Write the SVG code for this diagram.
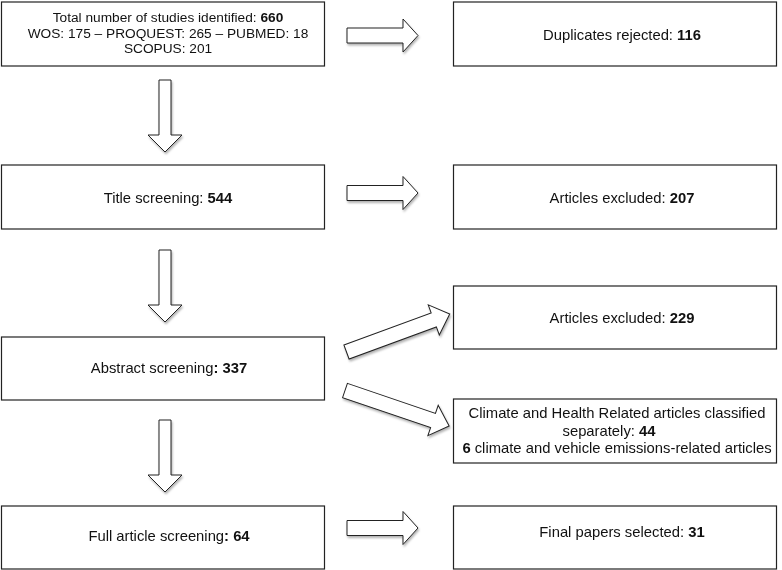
<svg xmlns="http://www.w3.org/2000/svg" width="782" height="570" viewBox="0 0 782 570">
<defs>
<style>
.box{fill:#fff;stroke:#222;stroke-width:1.2}
.arr{fill:#fff;stroke:#222;stroke-width:1;stroke-linejoin:miter}
text{font-family:"Liberation Sans",Arial,Helvetica,sans-serif;font-size:14.8px;fill:#111;text-anchor:middle}
.s{font-size:13.7px}
.b{font-weight:bold}
</style>
<filter id="sh" x="-20%" y="-20%" width="140%" height="160%">
<feDropShadow dx="1" dy="2" stdDeviation="1.2" flood-color="#000" flood-opacity="0.3"/>
</filter>
<path id="ah" d="M0,-7.5 H56 V-16.5 L71,0 L56,16.5 V7.5 H0 Z"/>
<path id="av" d="M-6,0 V55 H-17 L0,72 L17,55 H6 V0 Z"/>
<path id="ad" d="M0,-7.5 H93 V-16 L110,0 L93,16 V7.5 H0 Z"/>
</defs>
<rect width="782" height="570" fill="#fff"/>

<g id="connectors" filter="url(#sh)">
<use href="#ah" class="arr" x="347" y="35.5"/>
<use href="#ah" class="arr" x="347" y="193"/>
<use href="#ah" class="arr" x="347" y="528"/>
<use href="#av" class="arr" x="165" y="80"/>
<use href="#av" class="arr" x="165" y="250"/>
<use href="#av" class="arr" x="165" y="420"/>
<use href="#ad" class="arr" transform="translate(346.5,352) rotate(-20.2)"/>
<use href="#ad" class="arr" transform="translate(345,390.5) rotate(18.8)"/>
</g>

<g id="n-total">
<rect class="box" x="1.5" y="2" width="323" height="64"/>
<text class="s" x="168" y="22">Total number of studies identified: <tspan class="b">660</tspan></text>
<text class="s" x="168" y="37.5">WOS: 175 – PROQUEST: 265 – PUBMED: 18</text>
<text class="s" x="168" y="53">SCOPUS: 201</text>
</g>
<g id="n-duplicates">
<rect class="box" x="453.5" y="2" width="323" height="64"/>
<text x="622" y="40">Duplicates rejected: <tspan class="b">116</tspan></text>
</g>
<g id="n-title">
<rect class="box" x="1.5" y="165" width="323" height="64"/>
<text x="168" y="203">Title screening: <tspan class="b">544</tspan></text>
</g>
<g id="n-excluded207">
<rect class="box" x="453.5" y="165" width="323" height="64"/>
<text x="622" y="203">Articles excluded: <tspan class="b">207</tspan></text>
</g>
<g id="n-abstract">
<rect class="box" x="1.5" y="337" width="323" height="63"/>
<text x="169" y="373">Abstract screening<tspan class="b">: 337</tspan></text>
</g>
<g id="n-excluded229">
<rect class="box" x="453.5" y="286" width="323" height="63"/>
<text x="622" y="323">Articles excluded: <tspan class="b">229</tspan></text>
</g>
<g id="n-climate">
<rect class="box" x="453.5" y="399" width="323" height="64"/>
<text x="617" y="418">Climate and Health Related articles classified</text>
<text x="609" y="435.5">separately: <tspan class="b">44</tspan></text>
<text x="617" y="453"><tspan class="b">6</tspan> climate and vehicle emissions-related articles</text>
</g>
<g id="n-full">
<rect class="box" x="1.5" y="506" width="323" height="63"/>
<text x="169" y="541">Full article screening<tspan class="b">: 64</tspan></text>
</g>
<g id="n-final">
<rect class="box" x="453.5" y="506" width="323" height="63"/>
<text x="622" y="537">Final papers selected: <tspan class="b">31</tspan></text>
</g>
</svg>
